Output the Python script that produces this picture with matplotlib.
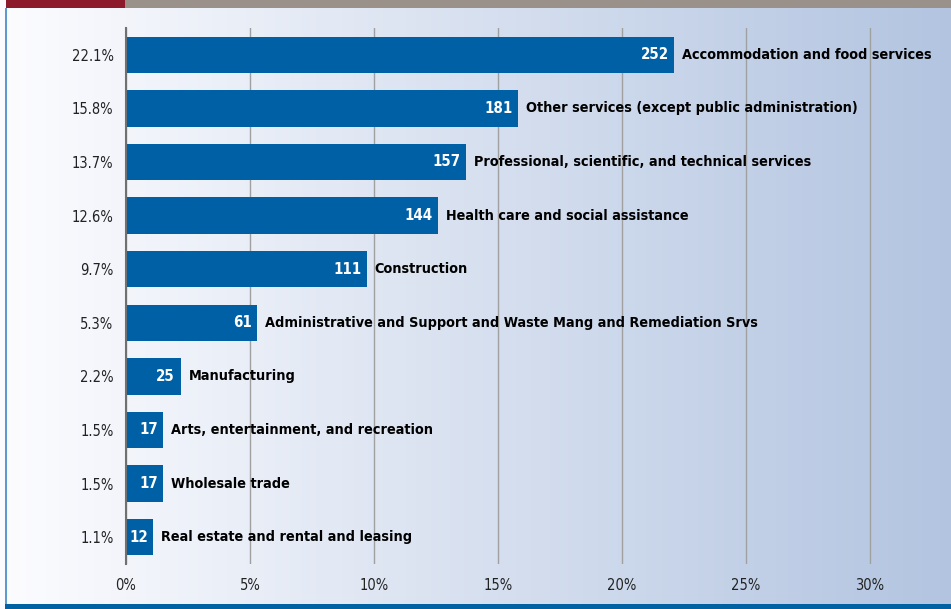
import numpy as np
from matplotlib import pyplot as plt
from matplotlib.patches import Rectangle

# data
categories = ["Accommodation and food services",
              "Other services (except public administration)",
              "Professional, scientific, and technical services",
              "Health care and social assistance",
              "Construction",
              "Administrative and Support and Waste Mang and Remediation Srvs",
              "Manufacturing",
              "Arts, entertainment, and recreation",
              "Wholesale trade",
              "Real estate and rental and leasing"]
counts = [252, 181, 157, 144, 111, 61, 25, 17, 17, 12]
percents = [22.1, 15.8, 13.7, 12.6, 9.7, 5.3, 2.2, 1.5, 1.5, 1.1]
xticks = [0, 5, 10, 15, 20, 25, 30]

W, H = 951, 609
fig = plt.figure(figsize=(W / 100, H / 100), dpi=100)

# background gradient
bg = fig.add_axes([0, 0, 1, 1], zorder=0)
bg.set_axis_off()
c1 = np.array([0.99, 0.99, 1.0])
c2 = np.array([0.70, 0.77, 0.88])
g = np.linspace(0, 1, 256)[None, :, None]
img = c1 + (c2 - c1) * g
bg.imshow(np.repeat(img, 2, axis=0), aspect="auto", extent=[0, 1, 0, 1])
bg.set_xlim(0, 1)
bg.set_ylim(0, 1)
# frame decorations
bg.add_patch(Rectangle((6 / W, 1 - 8 / H), (125 - 6) / W, 8 / H, color="#8c1a2c", lw=0))
bg.add_patch(Rectangle((125 / W, 1 - 8 / H), (W - 125) / W, 8 / H, color="#9a918b", lw=0))
bg.add_patch(Rectangle((5 / W, 0), 2 / W, 1 - 8 / H, color="#5c9bcf", lw=0))
bg.add_patch(Rectangle((5 / W, 0), 1, 5 / H, color="#0062a3", lw=0))

# main axes
left, right, top, bottom = 126, 940, 28, 564
ax = fig.add_axes([left / W, 1 - bottom / H, (right - left) / W, (bottom - top) / H], zorder=1)
ax.patch.set_alpha(0)
pxper = 24.8
ax.set_xlim(0, (right - left) / pxper)
n = len(categories)
ax.set_ylim(n - 0.5, -0.5)
y = np.arange(n)

ax.barh(y, percents, height=0.68, color="#0060a6", zorder=2)

for i in range(n):
    ax.text(percents[i] - 0.22, i, str(counts[i]), color="white", fontsize=10.8,
            fontweight="bold", stretch="condensed", ha="right", va="center",
            family="DejaVu Sans", zorder=3)
    ax.text(percents[i] + 0.32, i, categories[i], color="black", fontsize=10.4,
            fontweight="bold", stretch="condensed", ha="left", va="center",
            family="DejaVu Sans", zorder=3)

ax.set_xticks(xticks)
ax.set_xticklabels([f"{t}%" for t in xticks], fontsize=10.5, color="#222222",
                   stretch="condensed", family="DejaVu Sans")
ax.set_yticks(y)
ax.set_yticklabels([f"{p}%" for p in percents], fontsize=10.5, color="#222222",
                   stretch="condensed", family="DejaVu Sans")
ax.tick_params(length=0)
ax.tick_params(axis="y", pad=9)
ax.tick_params(axis="x", pad=10)
ax.grid(axis="x", color="#a0a0a0", lw=1, zorder=1)
for s in ["top", "right", "bottom"]:
    ax.spines[s].set_visible(False)
ax.spines["left"].set_color("#707070")
ax.spines["left"].set_linewidth(1.5)
ax.spines["left"].set_zorder(4)

fig.savefig("out.png", dpi=100)
